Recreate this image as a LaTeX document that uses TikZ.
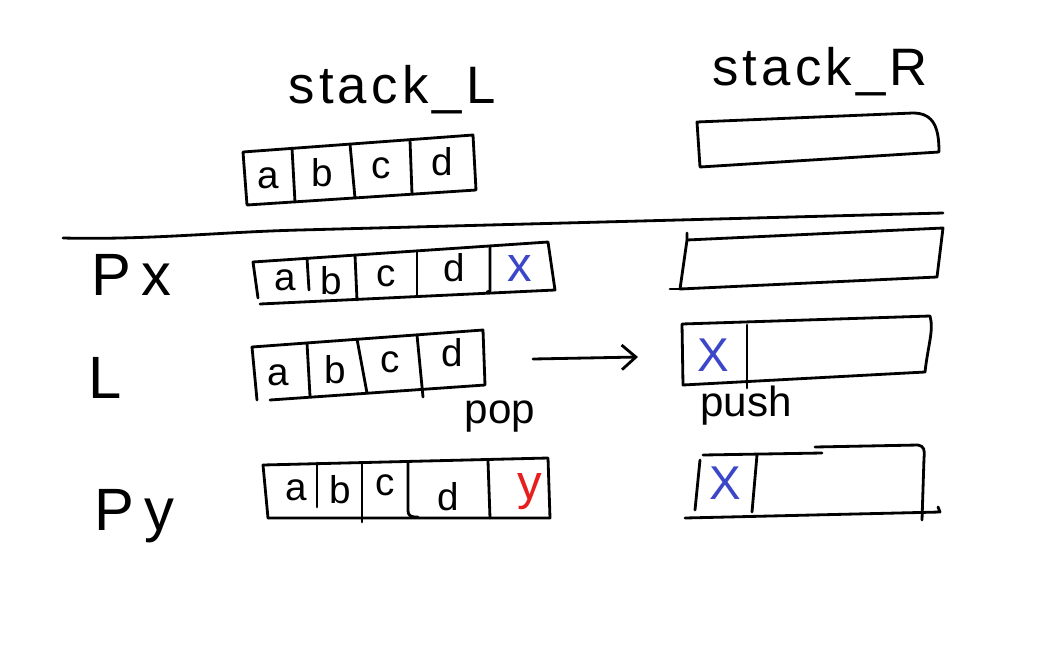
\documentclass[tikz,border=0pt]{standalone}
\usepackage{fontspec}
\setmainfont{Liberation Sans}
\usetikzlibrary{arrows.meta}
\definecolor{penblue}{RGB}{60,70,200}
\definecolor{penred}{RGB}{230,30,30}
\begin{document}
\begin{tikzpicture}[x=0.02cm,y=-0.02cm, line width=1.6pt, line cap=round, line join=round,
  cell/.style={font=\fontsize{22}{24}\selectfont, inner sep=0pt},
  title/.style={font=\fontsize{30}{34}\selectfont\addfontfeature{LetterSpace=8}, inner sep=0pt, anchor=base},
  rowlabel/.style={font=\fontsize{34}{38}\selectfont, inner sep=0pt, anchor=base west},
  oplabel/.style={font=\fontsize{24}{28}\selectfont, inner sep=0pt, anchor=base},
  bluemark/.style={cell, text=penblue},
  redmark/.style={cell, text=penred}]
\useasboundingbox (0,0) rectangle (1048,660);
\fill[white] (0,0) rectangle (1048,660);

% titles
\node[title] (tL) at (392,103) {stack\_L};
\node[title] (tR) at (820,85) {stack\_R};

% top stack_L
\coordinate (a1tl) at (243,152); \coordinate (a1tr) at (473,135);
\coordinate (a1br) at (476,190); \coordinate (a1bl) at (247,205);
\draw (a1tl) -- (a1tr) -- (a1br) -- (a1bl) -- cycle;
\draw (292,148) -- (295,202);
\draw (350,144) -- (355,198);
\draw (410,140) -- (412,194);
\node[cell] (a1a) at (268,178) {a};
\node[cell] (a1b) at (322,173) {b};
\node[cell] (a1c) at (381,168) {c};
\node[cell] (a1d) at (442,162) {d};

% top stack_R
\draw (697,122) -- (913,113) .. controls (935,113) and (939,130) .. (939,152) -- (700,167) -- cycle;

% separator
\coordinate (sepL) at (63,238); \coordinate (sepR) at (943,213);
\draw (sepL) .. controls (150,240) and (220,232) .. (300,230) -- (sepR);

% row labels
\node[rowlabel] (lPx) at (90,295) {P\,x};
\node[rowlabel] (lL) at (87,398) {L};
\node[rowlabel] (lPy) at (93,530) {P\,y};

% Px row
\draw (253,262) -- (548,242) -- (555,290) -- (260,304);
\draw (253,262) -- (258,298);
\draw (307,258) -- (309,290);
\draw (355,255) -- (357,300);
\draw (417,251) -- (417,296);
\draw (490,246) -- (490,291) -- (487,292);
\node[cell] (pxa) at (285,280) {a};
\node[cell] (pxb) at (331,281) {b};
\node[cell] (pxc) at (386,276) {c};
\node[cell] (pxd) at (454,268) {d};
\node[bluemark, font=\fontsize{28}{30}\selectfont] (pxx) at (520,268) {x};
\draw (687,233) -- (687,240) -- (943,228) -- (937,277) -- (680,289) -- (687,240);
\draw (680,289) -- (670,289);

% L row
\draw (252,347) -- (483,330) -- (485,385) -- (270,400);
\draw (252,347) -- (257,400);
\draw (307,343) -- (310,396);
\draw (357,339) -- (367,393);
\draw (417,335) -- (423,397);
\node[cell] (la) at (278,375) {a};
\node[cell] (lb) at (335,370) {b};
\node[cell] (lc) at (390,362) {c};
\node[cell] (ld) at (452,353) {d};
\coordinate (arrS) at (533,359); \coordinate (arrE) at (638,357);
\draw[-{Straight Barb[length=8pt,width=14pt]}] (arrS) -- (arrE);
\node[oplabel] (pop) at (500,423) {pop};
\draw (682,324) -- (930,316) .. controls (934,330) and (928,345) .. (925,372) -- (683,385) -- cycle;
\draw (747,325) -- (747,388);
\node[bluemark, font=\fontsize{27}{30}\selectfont] (lX) at (713,355) {X};
\node[oplabel] (push) at (746,416) {push};

% Py row
\draw (263,465) -- (548,458) -- (550,518) -- (268,518);
\draw (263,465) -- (268,518);
\draw (317,463) -- (317,507);
\draw (362,463) -- (362,522);
\draw (408,462) -- (408,510) .. controls (408,517) and (412,517) .. (418,517);
\draw (488,461) -- (490,518);
\node[cell] (pya) at (296,490) {a};
\node[cell] (pyb) at (340,490) {b};
\node[cell] (pyc) at (385,485) {c};
\node[cell] (pyd) at (448,497) {d};
\node[redmark, font=\fontsize{28}{30}\selectfont] (pyy) at (530,492) {y};
\draw (700,460) -- (695,510);
\draw (703,455) -- (822,453);
\draw (815,447) -- (918,445) .. controls (924,446) and (925,450) .. (924,458) -- (922,520);
\draw (685,518) -- (940,512) -- (938,507);
\draw (757,455) -- (752,512);
\node[bluemark, font=\fontsize{27}{30}\selectfont] (pyX) at (725,483) {X};
\end{tikzpicture}
\end{document}
